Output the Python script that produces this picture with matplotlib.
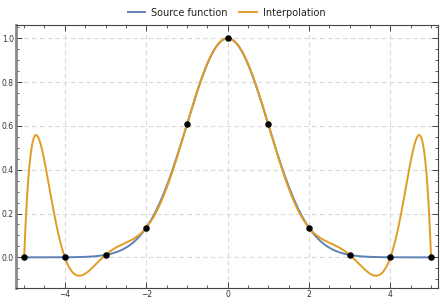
import numpy as np
import matplotlib
matplotlib.use("Agg")
import matplotlib.pyplot as plt
from matplotlib.ticker import MultipleLocator, FixedLocator

# Data: interpolation nodes
node_x = [-5, -4, -3, -2, -1, 0, 1, 2, 3, 4, 5]
node_y = [0.0, 0.0003, 0.011, 0.135, 0.607, 1.0, 0.607, 0.135, 0.011, 0.0003, 0.0]
series_names = ["Source function", "Interpolation"]
x_ticks = [-4, -2, 0, 2, 4]
y_ticks = [0.0, 0.2, 0.4, 0.6, 0.8, 1.0]

BLUE = "#5E81B5"
ORANGE = "#E19C24"

def source(x):
    return np.exp(-np.asarray(x) ** 2 / 2)

poly = np.polynomial.Polynomial.fit(node_x, node_y, len(node_x) - 1)

xs = np.linspace(node_x[0], node_x[-1], 1200)

fig = plt.figure(figsize=(4.4, 3.0), dpi=100)
ax = fig.add_axes([16 / 440, 12 / 300, 422 / 440, 263 / 300])

ax.plot(xs, source(xs), color=BLUE, lw=1.4, label=series_names[0], zorder=3)
ax.plot(xs, poly(xs), color=ORANGE, lw=1.4, label=series_names[1], zorder=4)
ax.scatter(node_x, node_y, s=22, color="black", zorder=5, linewidths=0)

ax.set_xlim(-5.2, 5.17)
ax.set_ylim(-0.14, 1.061)

ax.xaxis.set_major_locator(FixedLocator(x_ticks))
ax.yaxis.set_major_locator(FixedLocator(y_ticks))
ax.xaxis.set_minor_locator(MultipleLocator(0.5))
ax.yaxis.set_minor_locator(MultipleLocator(0.05))
ax.set_yticklabels([f"{v:.1f}" for v in y_ticks])
ax.set_xticklabels(["\u22124", "\u22122", "0", "2", "4"])

ax.tick_params(which="both", direction="in", top=True, right=True,
               color="#444444", labelsize=5.5, labelcolor="#333333", pad=1.5)
ax.tick_params(which="major", length=4, width=0.7)
ax.tick_params(which="minor", length=2.2, width=0.6)

ax.grid(True, which="major", color="#d9d9d9", ls=(0, (4, 3)), lw=0.8)
ax.set_axisbelow(True)

for side in ["top", "right", "bottom"]:
    ax.spines[side].set_color("#444444")
    ax.spines[side].set_linewidth(0.8)
ax.spines["left"].set_color("#888888")
ax.spines["left"].set_linewidth(2.0)

leg = fig.legend(loc="center", bbox_to_anchor=(0.515, 0.958), ncol=2,
                 frameon=False, fontsize=7, handlelength=1.8,
                 handletextpad=0.6, columnspacing=1.2)
for t in leg.get_texts():
    t.set_color("#222222")

fig.savefig("out.png", dpi=100)
